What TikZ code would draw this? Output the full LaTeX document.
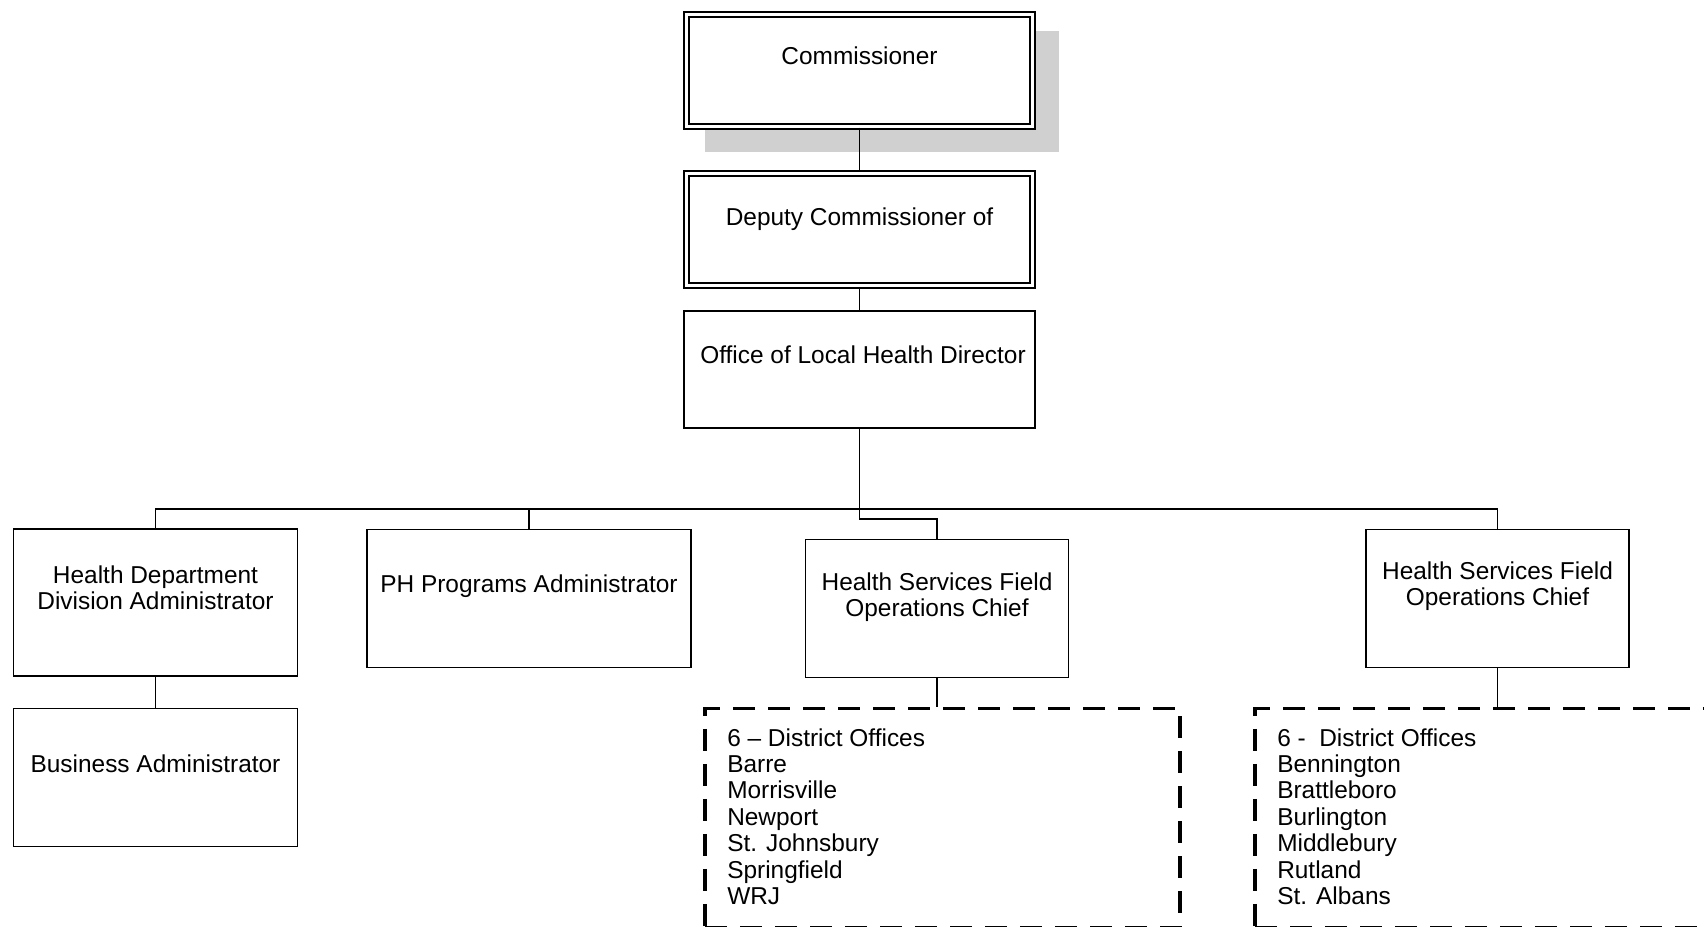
\documentclass[tikz,border=0pt]{standalone}
\usepackage{fontspec}
\setmainfont{Liberation Sans}
\usetikzlibrary{positioning,backgrounds}
\definecolor{ombre}{RGB}{208,208,208}

\begin{document}
\begin{tikzpicture}[
	boite/.style={rectangle,draw,line width=1pt,fill=white},
	boitedouble/.style={rectangle,draw,line width=1.1pt,double,double distance=1.7pt,fill=white},
	pointille/.style={rectangle,draw,line width=1.8pt,dash pattern=on 0.44cm off 0.26cm},
	texte/.style={inner sep=0pt,align=center,font=\fontsize{13.9pt}{15pt}\selectfont},
	liste/.style={inner sep=0pt,align=left,font=\fontsize{13.9pt}{15pt}\selectfont},
	trait/.style={line width=1pt}]
	\useasboundingbox (0,0) rectangle (34.08,-18.52);
	\clip (0,0) rectangle (34.08,-18.52);
	% description et nommage des noeuds
	\node (COMM) at (17.19,-1.407) [boitedouble,minimum width=6.91cm,minimum height=2.25cm] {};
	\node (ADJ) at (17.19,-4.593) [boitedouble,minimum width=6.91cm,minimum height=2.25cm] {};
	\node (BUREAU) at (17.19,-7.39) [boite,minimum width=7.02cm,minimum height=2.34cm] {};
	\node (ADMDIV) at (3.11,-12.05) [boite,minimum width=5.68cm,minimum height=2.93cm] {};
	\node (ADMAFF) at (3.11,-15.55) [boite,minimum width=5.68cm,minimum height=2.76cm] {};
	\node (ADMPH) at (10.58,-11.97) [boite,minimum width=6.48cm,minimum height=2.76cm] {};
	\node (CHEF1) at (18.74,-12.17) [boite,minimum width=5.26cm,minimum height=2.76cm] {};
	\node (CHEF2) at (29.95,-11.97) [boite,minimum width=5.26cm,minimum height=2.76cm] {};
	\node (DIST1) at (18.85,-16.36) [pointille,minimum width=9.5cm,minimum height=4.39cm] {};
	\node (DIST2) at (29.85,-16.36) [pointille,minimum width=9.5cm,minimum height=4.39cm] {};
	% ombre du commissaire
	\begin{scope}[on background layer]
		\fill[ombre] ([shift={(0.39,-0.48)}]COMM.south west) rectangle ([shift={(0.52,-0.35)}]COMM.north east);
	\end{scope}
	% textes
	\node (COMMT) [texte,below=0.66cm of COMM.north] {Commissioner};
	\node (ADJT) [texte,below=0.70cm of ADJ.north] {Deputy Commissioner of};
	\node (BUREAUT) [texte,below=0.71cm of BUREAU.north,xshift=0.07cm] {Office of Local Health Director};
	\node (ADMDIVT) [texte,below=0.74cm of ADMDIV.north] {Health Department\\Division Administrator};
	\node (ADMAFFT) [texte,below=0.94cm of ADMAFF.north] {Business Administrator};
	\node (ADMPHT) [texte,below=0.91cm of ADMPH.north] {PH Programs Administrator};
	\node (CHEF1T) [texte,below=0.67cm of CHEF1.north] {Health Services Field\\Operations Chief};
	\node (CHEF2T) [texte,below=0.65cm of CHEF2.north] {Health Services Field\\Operations Chief};
	\node (DIST1T) [liste,below right=0.43cm and 0.47cm of DIST1.north west] {6 – District Offices\\Barre\\Morrisville\\Newport\\St. Johnsbury\\Springfield\\WRJ};
	\node (DIST2T) [liste,below right=0.43cm and 0.47cm of DIST2.north west] {6 -\ \ District Offices\\Bennington\\Brattleboro\\Burlington\\Middlebury\\Rutland\\St. Albans};
	% liaisons
	\coordinate (BUS) at (0,-10.18);
	\coordinate (COUDE) at (17.19,-10.38);
	\draw[trait] (COMM) -- (ADJ);
	\draw[trait] (ADJ) -- (BUREAU);
	\draw[trait] (BUREAU.south) -- (COUDE) -| (CHEF1.north);
	\draw[trait] (ADMDIV.north) |- (CHEF2.north |- BUS) -- (CHEF2.north);
	\draw[trait] (ADMPH.north) -- (ADMPH.north |- BUS);
	\draw[trait] (ADMDIV) -- (ADMAFF);
	\draw[trait] (CHEF1.south) -- (CHEF1.south |- DIST1.north);
	\draw[trait] (CHEF2.south) -- (CHEF2.south |- DIST2.north);
\end{tikzpicture}
\end{document}
